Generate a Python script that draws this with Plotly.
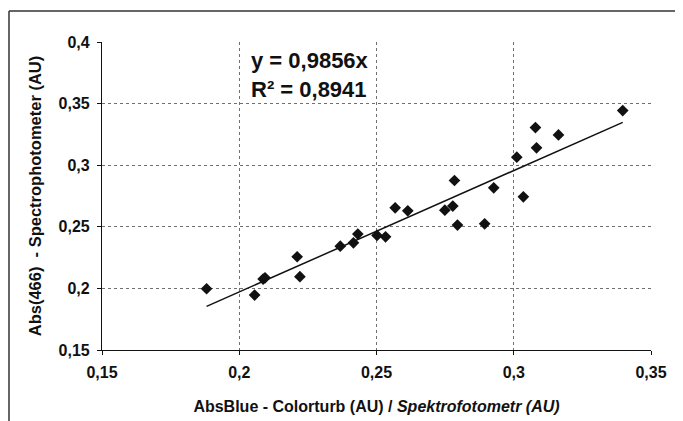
import plotly.graph_objects as go

# Data
abs_blue = [0.1881, 0.2056, 0.2087, 0.2094, 0.2211, 0.2221, 0.2368, 0.2416, 0.2432,
            0.2502, 0.2533, 0.2568, 0.2614, 0.2749, 0.2778, 0.2784, 0.2795, 0.2894,
            0.2927, 0.3011, 0.3035, 0.3079, 0.3083, 0.3163, 0.3397]
abs_466 = [0.1997, 0.1946, 0.2076, 0.2086, 0.2257, 0.2095, 0.2343, 0.2370, 0.2441,
           0.2430, 0.2419, 0.2654, 0.2630, 0.2635, 0.2668, 0.2876, 0.2514, 0.2524,
           0.2816, 0.3065, 0.2743, 0.3305, 0.3141, 0.3246, 0.3443]
slope = 0.9856
slope_text = "0,9856"
r2_text = "0,8941"

x_ticks = [0.15, 0.2, 0.25, 0.3, 0.35]
x_tick_labels = ["0,15", "0,2", "0,25", "0,3", "0,35"]
y_ticks = [0.15, 0.2, 0.25, 0.3, 0.35, 0.4]
y_tick_labels = ["0,15", "0,2", "0,25", "0,3", "0,35", "0,4"]

FONT = "Liberation Sans, Arial, sans-serif"

fig = go.Figure()

fig.add_trace(go.Scatter(
    x=abs_blue, y=abs_466, mode="markers",
    marker=dict(symbol="diamond", size=9, color="#111111"),
    showlegend=False,
))

x_line = [min(abs_blue), max(abs_blue)]
y_line = [slope * v for v in x_line]
fig.add_trace(go.Scatter(
    x=x_line, y=y_line, mode="lines",
    line=dict(color="#111111", width=1.5),
    showlegend=False,
))

fig.add_annotation(
    x=0.2036, y=0.3735, xref="x", yref="y", xanchor="left", yanchor="middle",
    text="<b>y = " + slope_text + "x</b><br><b>R² = " + r2_text + "</b>",
    showarrow=False, align="left",
    font=dict(family=FONT, size=22, color="#111111"),
)

# outer frame (only top and left edges are visible in the reference)
frame_line = dict(color="#333333", width=1.5)
fig.add_shape(type="line", xref="paper", yref="paper",
              x0=-0.1694, x1=1.3, y0=1.1006, y1=1.1006, line=frame_line, layer="below")
fig.add_shape(type="line", xref="paper", yref="paper",
              x0=-0.1694, x1=-0.1694, y0=-0.5, y1=1.1006, line=frame_line, layer="below")

axis_common = dict(
    showgrid=True, gridcolor="#707070", griddash="dot", gridwidth=1,
    showline=True, linecolor="#111111", linewidth=1.2,
    ticks="outside", ticklen=4, tickcolor="#111111", tickwidth=1,
    zeroline=False, automargin=False,
    tickfont=dict(family=FONT, size=16, color="#111111"),
)

fig.update_xaxes(
    range=[0.15, 0.35], tickvals=x_ticks,
    ticktext=["<b>" + t + "</b>" for t in x_tick_labels],
    ticklabelstandoff=4,
    title=dict(text="<b>AbsBlue - Colorturb (AU) / <i>Spektrofotometr (AU)</i></b>",
               font=dict(family=FONT, size=16, color="#111111"), standoff=20),
    **axis_common,
)
fig.update_yaxes(
    range=[0.15, 0.4], tickvals=y_ticks,
    ticktext=["<b>" + t + "</b>" for t in y_tick_labels],
    ticklabelstandoff=4,
    title=dict(text="<b>Abs(466)  - Spectrophotometer (AU)</b>",
               font=dict(family=FONT, size=16.5, color="#111111"), standoff=12),
    **axis_common,
)

# the page body adds an 8px offset; size and margins compensate for it
fig.update_layout(
    width=675, height=413,
    margin=dict(l=94, r=32, t=34, b=71),
    paper_bgcolor="white", plot_bgcolor="white",
    font=dict(family=FONT, color="#111111"),
)

fig.write_html("out.html")
